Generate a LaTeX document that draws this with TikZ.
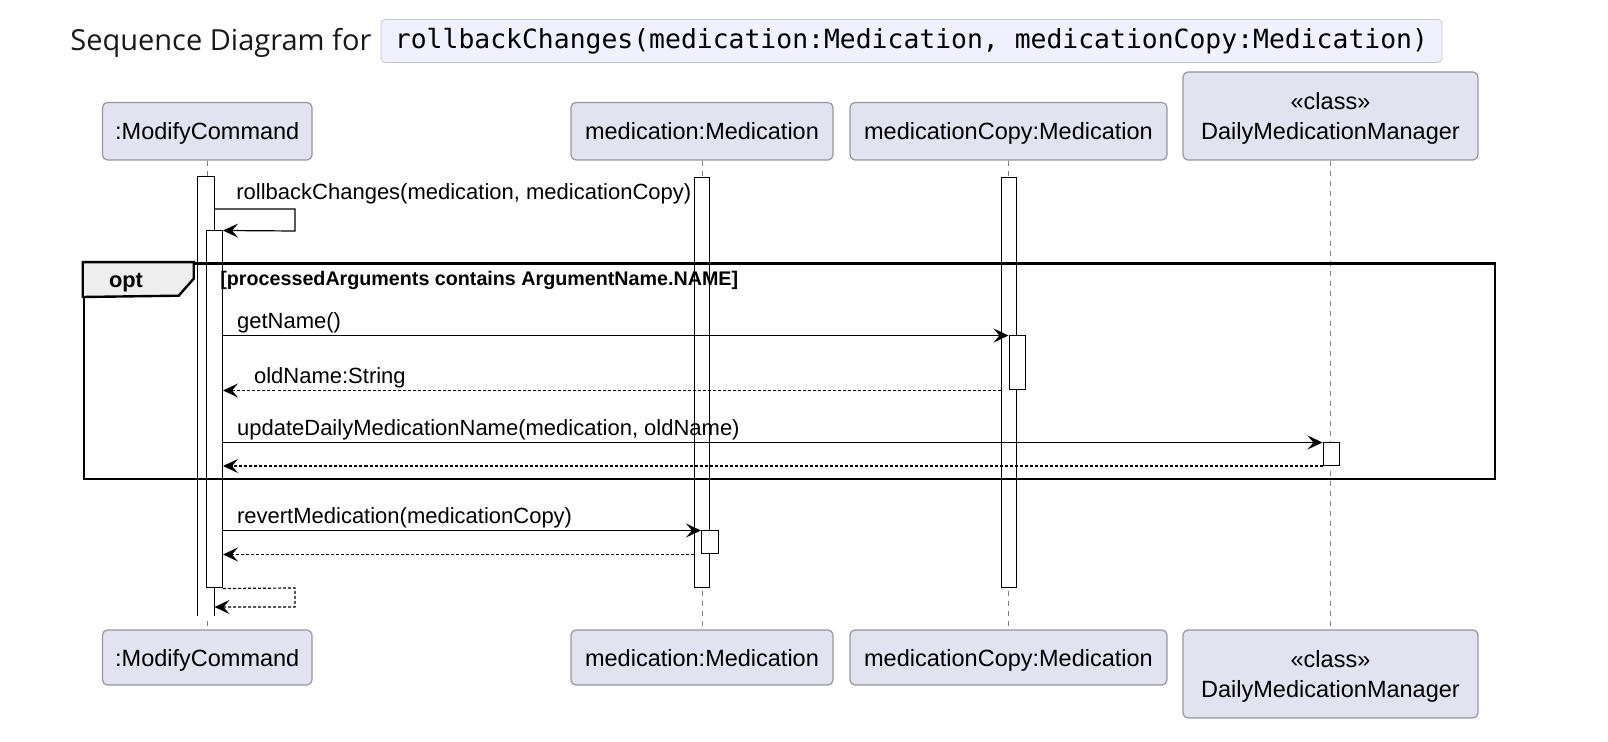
\documentclass[tikz,border=0pt]{standalone}
\usepackage{fontspec}
\setmainfont{Liberation Sans}
\newfontfamily\titlefont{Open Sans}
\newfontfamily\codefont{DejaVu Sans Mono}
\usetikzlibrary{arrows.meta, fit}
\definecolor{actorfill}{RGB}{226,226,240}
\definecolor{actorline}{RGB}{150,150,160}
\definecolor{codefill}{RGB}{240,240,255}
\definecolor{codeline}{RGB}{196,196,222}
\definecolor{tabfill}{RGB}{238,238,238}
\tikzset{
  actor/.style  = {draw=actorline, fill=actorfill, rounded corners=2.5pt, inner sep=0pt,
                   line width=0.6pt, align=center, minimum height=28.75pt, text depth=0pt,
                   font=\fontsize{11.75}{15}\selectfont},
  bar/.style    = {draw, fill=white, inner sep=0pt, line width=0.5pt},
  life/.style   = {draw=gray, dash pattern=on 2.5pt off 2.5pt, line width=0.5pt},
  call/.style   = {-{Stealth[length=7.5pt,width=7pt,inset=3pt]}, line width=0.6pt},
  reply/.style  = {call, dash pattern=on 1.5pt off 1pt},
  lbl/.style    = {font=\fontsize{11}{13}\selectfont, inner sep=0pt, anchor=base west},
  frame/.style  = {draw, line width=1.3pt, inner sep=0pt}
}

\begin{document}
\begin{tikzpicture}[x=0.5pt, y=-0.5pt]
  \useasboundingbox (0,0) rectangle (1608,742);

  % heading
  \node[anchor=base west, inner sep=0pt, text=black!90,
        font=\titlefont\fontsize{14.5}{17}\selectfont] (title) at (70,51) {Sequence Diagram for};
  \node[draw=codeline, fill=codefill, rounded corners=2pt, inner sep=0pt,
        minimum width=530.5pt, minimum height=21.5pt,
        font=\codefont\fontsize{13.2}{15}\selectfont] (sig) at (911.5,41)
        {rollbackChanges(medication:Medication, medicationCopy:Medication)};

  % participants
  \node[actor, minimum width=104.75pt] (mc-top)  at (207.25,131.25) {:ModifyCommand};
  \node[actor, minimum width=131pt]    (med-top) at (702,131.25)    {medication:Medication};
  \node[actor, minimum width=158.5pt]  (cp-top)  at (1008.5,131.25) {medicationCopy:Medication};
  \node[actor, minimum width=147.5pt, minimum height=44pt] (dm-top) at (1330.5,116)
    {«class»\\DailyMedicationManager};
  \node[actor, minimum width=104.75pt, minimum height=27.5pt] (mc-bot)  at (207.25,657.5) {:ModifyCommand};
  \node[actor, minimum width=131pt, minimum height=27.5pt]    (med-bot) at (702,657.5)    {medication:Medication};
  \node[actor, minimum width=158.5pt, minimum height=27.5pt]  (cp-bot)  at (1008.5,657.5) {medicationCopy:Medication};
  \node[actor, minimum width=147.5pt, minimum height=44pt]    (dm-bot)  at (1330.5,674)
    {«class»\\DailyMedicationManager};

  \foreach \p in {mc, med, cp, dm}
    \draw[life] (\p-top.south) -- (\p-bot.north);

  % activations
  \node[bar, draw=none, fit={(198,177.5) (214,616)}] (mc-bar) {};
  \draw[line width=0.5pt] (mc-bar.south west) |- (mc-bar.north east) -- (mc-bar.south east);
  \node[bar, fit={(206,231) (222.5,588)}]    (mc-act)  {};
  \node[bar, fit={(694,177.5) (709.5,588)}]  (med-bar) {};
  \node[bar, fit={(701.5,531) (718,554)}]    (med-act) {};
  \node[bar, fit={(1001,177.5) (1016,588)}]  (cp-bar)  {};
  \node[bar, fit={(1009,336) (1025.5,390)}]  (cp-act)  {};
  \node[bar, fit={(1323,443) (1339,465.5)}]  (dm-act)  {};

  % opt fragment
  \node[frame, fit={(84,263.5) (1495,479)}] (opt) {};
  \draw[fill=tabfill, line width=1.2pt] (opt.north west) -- ++(111,0) -- ++(0,16.5)
    -- ++(-15,17) -- (opt.west |- 0,297) -- cycle;
  \node[font=\bfseries\fontsize{10.9}{13}\selectfont, inner sep=0pt] (optname) at (126,283) {opt};
  \node[font=\bfseries\fontsize{9.85}{12}\selectfont, inner sep=0pt, anchor=west] (guard)
    at (220,280) {[processedArguments contains ArgumentName.NAME]};

  % messages
  \draw[call] (mc-bar.east |- 0,209) -- (295,209) -- (295,231) -- (mc-act.north east);
  \node[lbl] (m0) at (236,200) {rollbackChanges(medication, medicationCopy)};
  \draw[call] (mc-act.east |- cp-act.north) --
    node[lbl, pos=0, xshift=6.75pt, yshift=3.5pt] {getName()} (cp-act.north west);
  \draw[reply] (cp-bar.west |- cp-act.south) --
    node[lbl, pos=1, xshift=15.25pt, yshift=3.5pt] {oldName:String} (mc-act.east |- cp-act.south);
  \draw[call] (mc-act.east |- dm-act.north) --
    node[lbl, pos=0, xshift=6.75pt, yshift=3.5pt] {updateDailyMedicationName(medication, oldName)} (dm-act.north west);
  \draw[reply] (dm-act.south west) -- (mc-act.east |- dm-act.south);
  \draw[call] (mc-act.east |- med-act.north) --
    node[lbl, pos=0, xshift=6.75pt, yshift=3.5pt] {revertMedication(medicationCopy)} (med-act.north west);
  \draw[reply] (med-bar.west |- med-act.south) -- (mc-act.east |- med-act.south);
  \draw[reply] (mc-act.south east) -- (295,588) -- (295,607) -- (mc-bar.east |- 0,607);
\end{tikzpicture}
\end{document}
